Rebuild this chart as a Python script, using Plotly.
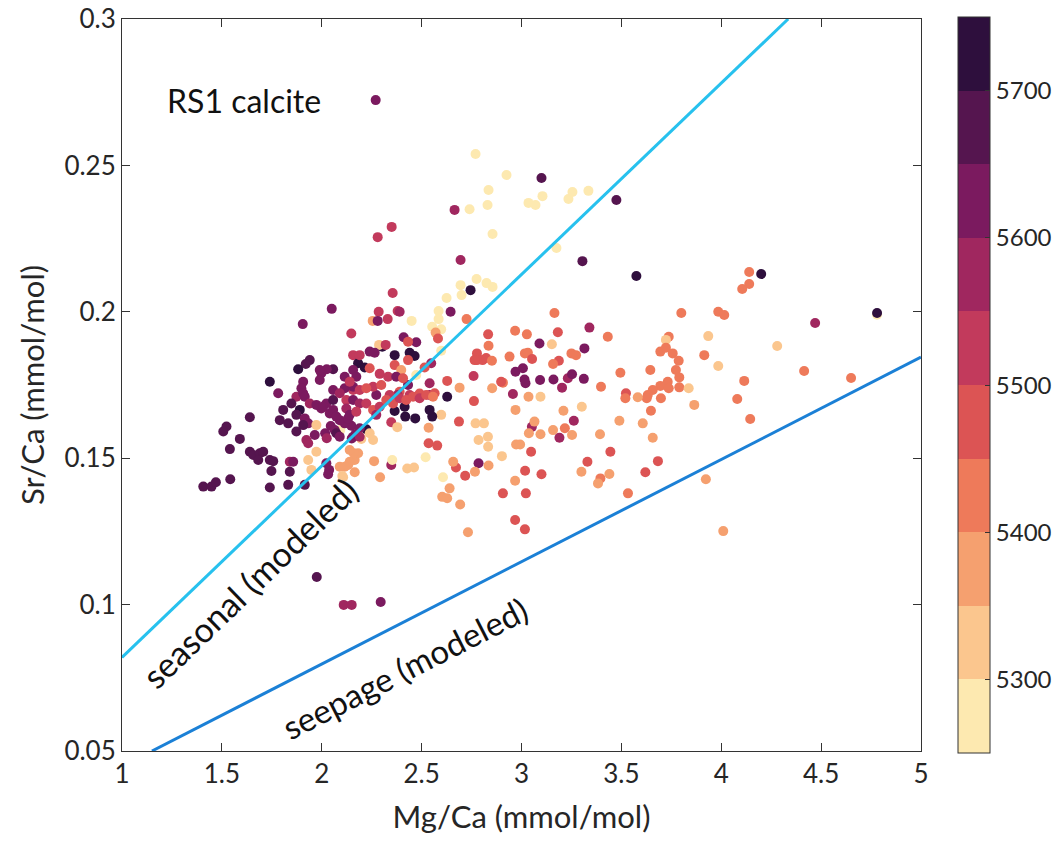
import plotly.graph_objects as go

# ---------------- data ----------------
# age codes: A=5725 B=5675 C=5625 D=5575 E=5525 F=5475 G=5425 H=5375 I=5325 J=5275
A, B, C, D, E, F, G, H, I, J = 5725, 5675, 5625, 5575, 5525, 5475, 5425, 5375, 5325, 5275

mg_ca = [
    2.27, 2.77, 2.925, 2.835, 2.83, 2.74, 2.665, 2.855, 2.28, 2.35,
    2.695, 2.775, 2.825, 2.855, 2.745, 2.695, 2.70, 2.625, 2.585, 2.645,
    2.725, 2.585, 2.45, 2.355, 2.285, 2.38, 2.33, 2.255, 2.28, 2.05,
    1.905, 3.10, 3.035, 3.07, 3.105, 3.235, 3.255, 3.335, 3.475, 3.175,
    3.305, 3.575, 4.2, 4.14, 4.14, 4.105, 3.165, 3.80, 3.985, 4.015,
    4.47, 2.39, 4.78, 4.78, 3.935, 4.28, 3.915, 3.985, 4.415, 4.65,
    4.115, 4.08, 4.145,
    2.833, 2.968, 3.027, 3.182, 3.34, 3.432, 3.737, 3.723, 2.835, 3.152,
    3.09, 3.315, 2.777, 2.777, 2.805, 2.765, 2.823, 2.852, 2.94, 3.017,
    3.032, 3.053, 3.25, 3.273, 3.187, 3.158, 3.695, 3.723, 3.757, 3.787,
    2.97, 3.007, 3.015, 3.02, 3.093, 3.16, 3.203, 3.232, 3.253, 3.312,
    2.957, 2.907, 2.76, 2.628, 2.69, 2.853, 2.762, 3.035, 3.095, 3.398,
    3.495, 3.645, 3.732, 3.695, 3.657, 3.632, 3.627, 3.698, 3.773, 3.79,
    3.79, 3.737, 3.837, 3.865, 3.523, 3.52, 3.582, 3.648, 3.607, 3.657,
    3.49, 3.393, 3.302, 3.21, 2.97, 3.262, 3.052, 3.065, 3.158, 3.217,
    3.19, 3.253, 3.095, 3.037, 2.973, 2.993, 3.048, 3.445, 3.33, 3.30,
    3.395, 3.383, 3.44, 3.62, 3.683, 3.533, 3.923, 4.01, 2.902, 2.833,
    2.832, 2.785, 2.77, 2.812, 2.785, 2.835, 2.767, 2.718, 2.672, 2.658,
    2.687, 2.607, 2.64, 2.603, 2.628, 2.693, 2.732, 2.968, 2.907, 3.018,
    3.022, 3.10, 2.968, 3.017, 2.54, 2.54, 2.535, 2.578, 2.52, 2.428,
    2.462, 2.535, 2.598, 2.628, 2.553, 2.54, 2.468, 2.418, 2.415,
    2.365, 2.223, 2.15, 2.348, 2.378, 2.348, 2.292, 2.262, 2.353, 2.107,
    2.165, 2.132, 2.14, 2.165, 2.182, 2.16, 2.14, 2.115, 2.09, 2.103,
    2.023, 2.037, 2.032, 2.24, 2.257, 2.198, 2.093, 2.148, 2.17, 2.045,
    2.065, 2.017, 2.025, 2.115, 2.09, 2.132, 2.023, 2.057, 1.998, 2.04,
    2.157, 2.273, 2.39, 2.44, 2.49, 2.38,
    2.553, 2.598, 2.57, 2.582, 2.598, 2.148, 2.41, 2.473, 2.432, 2.303,
    2.287, 2.32, 2.365, 2.44, 2.465, 2.24, 2.265, 2.157, 2.182, 2.215,
    2.365, 2.398, 2.432, 2.548, 2.515, 2.473, 2.057, 2.025, 1.998, 2.115,
    2.157, 2.173, 2.24, 2.29, 2.332, 2.373, 2.432, 2.407, 2.565, 2.057,
    2.115, 2.157, 2.257, 2.298, 2.34,
    1.94, 1.92, 1.882, 1.74, 1.782, 1.99, 1.99, 1.907, 1.898, 1.873,
    1.907, 1.915, 1.848, 1.807, 1.89, 1.873, 1.915, 1.932, 1.907, 1.79,
    1.832, 1.873, 1.94, 1.973, 2.007, 1.973, 1.965, 1.923, 1.932, 1.973,
    1.932, 1.948, 1.64, 1.523, 1.507, 1.59, 1.54, 1.64, 1.657, 1.69,
    1.707, 1.682, 1.74, 1.757, 1.748, 1.84, 1.857, 1.84, 1.407, 1.448,
    1.47, 1.542, 1.74, 1.832, 1.915,
    1.975, 2.11, 2.15, 2.295,
    2.14, 2.19, 2.223, 2.09, 2.123, 2.157, 2.19, 2.057, 2.073, 2.123,
    2.14, 2.173, 2.223, 2.257, 2.273, 2.29, 2.323, 2.357, 2.39, 2.423,
    2.457, 2.49, 2.523, 2.557, 2.19, 2.157, 2.19, 2.073, 2.09, 2.19,
    2.898,
]

sr_ca = [
    0.2723, 0.2539, 0.2467, 0.2416, 0.2365, 0.235, 0.2348, 0.2266, 0.2255, 0.229,
    0.2177, 0.2112, 0.2098, 0.2085, 0.2074, 0.2091, 0.2057, 0.2047, 0.2003, 0.200,
    0.1975, 0.1975, 0.1969, 0.2064, 0.200, 0.2003, 0.1975, 0.1969, 0.1969, 0.201,
    0.1958, 0.2457, 0.2372, 0.2365, 0.2395, 0.2385, 0.2409, 0.2413, 0.2382, 0.2218,
    0.2173, 0.2122, 0.2129, 0.2136, 0.2095, 0.2078, 0.1996, 0.1996, 0.200, 0.1989,
    0.1962, 0.200, 0.1990, 0.1996, 0.1917, 0.1883, 0.1852, 0.1815, 0.1798, 0.1774,
    0.1764, 0.1702, 0.1634,
    0.1923, 0.1935, 0.1923, 0.193, 0.1946, 0.1915, 0.1915, 0.1904, 0.1884, 0.1889,
    0.1892, 0.1875, 0.1858, 0.1835, 0.1835, 0.1835, 0.1842, 0.1833, 0.1847, 0.1858,
    0.1860, 0.1839, 0.1858, 0.1852, 0.1833, 0.1822, 0.1864, 0.1877, 0.1858, 0.1833,
    0.1795, 0.1807, 0.1769, 0.1756, 0.1767, 0.1769, 0.1741, 0.1773, 0.1787, 0.1771,
    0.1719, 0.1758, 0.1781, 0.1764, 0.1741, 0.1739, 0.1695, 0.1710, 0.1710, 0.1744,
    0.1792, 0.1801, 0.1761, 0.1747, 0.1733, 0.1716, 0.1705, 0.1705, 0.1801, 0.1776,
    0.1742, 0.1739, 0.1739, 0.1682, 0.1722, 0.1705, 0.1708, 0.1662, 0.1619, 0.1570,
    0.1628, 0.1582, 0.1676, 0.1662, 0.1665, 0.1628, 0.1607, 0.1625, 0.1596, 0.1602,
    0.1570, 0.1579, 0.1582, 0.1585, 0.1547, 0.1547, 0.1522, 0.1522, 0.1488, 0.1454,
    0.1431, 0.1414, 0.1446, 0.1452, 0.1490, 0.1380, 0.1428, 0.1251, 0.1507, 0.1539,
    0.1573, 0.1562, 0.1619, 0.1619, 0.1483, 0.1475, 0.1454, 0.1440, 0.1468, 0.1488,
    0.1625, 0.1435, 0.1397, 0.1368, 0.1363, 0.1342, 0.1247, 0.1423, 0.1380, 0.1457,
    0.1380, 0.1445, 0.1289, 0.1257, 0.1756, 0.1716, 0.1551, 0.1543, 0.1503, 0.1465,
    0.1468, 0.1604, 0.1648, 0.1710, 0.1642, 0.1665, 0.1636, 0.1642, 0.1676,
    0.1661, 0.1599, 0.1567, 0.1623, 0.1606, 0.1477, 0.1435, 0.149, 0.1494, 0.1435,
    0.1452, 0.1477, 0.1488, 0.1494, 0.1517, 0.1517, 0.1528, 0.1471, 0.1471, 0.1439,
    0.1483, 0.146, 0.1445, 0.1585, 0.1562, 0.1566, 0.1596, 0.1611, 0.1583, 0.161,
    0.1596, 0.1585, 0.1568, 0.1619, 0.163, 0.1636, 0.1687, 0.1699, 0.167, 0.1653,
    0.1733, 0.1716, 0.1727, 0.1716, 0.1721, 0.1716,
    0.1949, 0.194, 0.1929, 0.1909, 0.1867, 0.1926, 0.1913, 0.1896, 0.1898, 0.1881,
    0.1887, 0.1887, 0.1852, 0.186, 0.1849, 0.1864, 0.186, 0.1852, 0.1824, 0.181,
    0.1818, 0.1801, 0.1835, 0.1824, 0.181, 0.1784, 0.1804, 0.1804, 0.179, 0.1778,
    0.1801, 0.1778, 0.1807, 0.1788, 0.1778, 0.1778, 0.175, 0.1773, 0.1722, 0.1733,
    0.1739, 0.1744, 0.1744, 0.175, 0.1716,
    0.1835, 0.1822, 0.1804, 0.1761, 0.1722, 0.1801, 0.1767, 0.1761, 0.1739, 0.171,
    0.1722, 0.171, 0.1687, 0.1665, 0.1665, 0.1648, 0.1636, 0.1619, 0.1613, 0.163,
    0.1619, 0.1591, 0.1687, 0.1682, 0.1676, 0.1613, 0.1579, 0.1562, 0.1551, 0.1522,
    0.1494, 0.146, 0.164, 0.1608, 0.1591, 0.1566, 0.1531, 0.1522, 0.1511, 0.1517,
    0.1522, 0.1494, 0.1494, 0.149, 0.1456, 0.1488, 0.1488, 0.1454, 0.1403, 0.1403,
    0.1418, 0.1428, 0.14, 0.1409, 0.1409,
    0.1094, 0.0999, 0.0999, 0.1009,
    0.1761, 0.1733, 0.1739, 0.1722, 0.1699, 0.1699, 0.1687, 0.1665, 0.1642, 0.1670,
    0.1648, 0.1659, 0.1687, 0.1665, 0.1648, 0.1676, 0.1699, 0.1687, 0.1705, 0.1699,
    0.171, 0.1705, 0.1716, 0.171, 0.1602, 0.1573, 0.1573, 0.1585, 0.1573, 0.1852,
    0.1761,
]

age_bp = [
    C, J, J, J, J, J, D, J, E, E,
    D, J, J, J, A, J, J, J, J, C,
    G, J, J, E, E, E, E, H, C, C,
    C, B, J, J, J, J, J, J, B, J,
    B, A, A, G, G, G, G, G, G, G,
    D, D, J, A, I, I, G, I, G, G,
    G, G, G,
    F, G, G, F, D, G, G, I, G, I,
    C, C, F, F, F, F, F, G, G, G,
    G, F, G, G, F, G, G, G, G, G,
    C, C, C, C, C, C, D, D, C, C,
    D, G, E, F, H, H, F, H, I, G,
    G, G, G, G, G, G, G, G, G, G,
    G, G, I, H, F, G, H, G, H, H,
    H, H, I, H, H, D, D, H, H, G,
    D, H, H, H, H, H, F, F, F, H,
    G, H, H, F, F, G, H, H, I, I,
    I, I, I, I, C, H, H, F, F, H,
    F, J, H, H, H, H, H, H, F, F,
    F, F, F, F, D, D, F, F, J, I,
    I, H, I, A, A, A, A, A, A,
    A, A, C, E, I, D, H, H, J, I,
    H, H, H, H, H, H, H, H, H, I,
    C, C, C, I, I, I, J, C, C, C,
    C, C, D, C, C, C, C, B, C, C,
    E, C, F, E, F, D,
    J, J, H, F, J, E, C, C, F, A,
    I, E, A, A, A, C, C, E, A, A,
    F, H, F, D, F, J, B, C, C, C,
    C, C, F, E, E, C, C, F, F, C,
    C, C, E, F, E,
    B, B, A, A, C, C, C, C, C, D,
    C, C, B, B, A, B, C, C, B, B,
    B, B, D, C, C, I, C, D, D, I,
    I, I, B, B, B, B, B, B, B, B,
    B, B, B, B, B, D, C, B, B, B,
    B, B, B, B, B,
    B, D, D, C,
    E, E, F, D, E, C, D, C, C, D,
    C, E, E, F, D, E, F, F, E, F,
    F, E, F, G, C, C, D, B, C, E,
    F,
]

# modelled lines (end points in data units)
seasonal_x = [1.0, 4.335]
seasonal_y = [0.082, 0.3]
seepage_x = [1.15, 5.0]
seepage_y = [0.05, 0.1845]

bin_colors = ["#fde9b0", "#fbc68e", "#f5a06f", "#ee7a5a", "#dc5454",
              "#c23a5c", "#a0275f", "#7b1a5f", "#55154f", "#2e0f3d"]
cbar_ticks = [5300, 5400, 5500, 5600, 5700]
x_ticks = [1, 1.5, 2, 2.5, 3, 3.5, 4, 4.5, 5]
y_ticks = [0.05, 0.1, 0.15, 0.2, 0.25, 0.3]
y_ticktext = ["0.05", "0.1", "0.15", "0.2", "0.25", "0.3"]

# ---------------- figure ----------------
n = len(bin_colors)
colorscale = []
for i, c in enumerate(bin_colors):
    colorscale.append([i / n, c])
    colorscale.append([(i + 1) / n, c])

FONT = "Lato"
TXT = "#262626"

fig = go.Figure()

fig.add_trace(go.Scatter(
    x=mg_ca, y=sr_ca, mode="markers", showlegend=False,
    marker=dict(
        size=10, color=age_bp, colorscale=colorscale, cmin=5250, cmax=5750,
        line=dict(width=0),
        colorbar=dict(
            x=1.0463, xanchor="left", xref="paper", xpad=0,
            y=-0.003, yanchor="bottom", len=1.006, lenmode="fraction", ypad=0,
            thickness=32, outlinewidth=1, outlinecolor="#333333",
            tickvals=cbar_ticks, ticks="inside", ticklen=5, tickcolor="#333333",
            tickfont=dict(family=FONT, size=24, color=TXT),
        ),
    ),
))

fig.add_trace(go.Scatter(
    x=seasonal_x, y=seasonal_y, mode="lines",
    line=dict(color="#27c1ee", width=3), hoverinfo="skip", showlegend=False))
fig.add_trace(go.Scatter(
    x=seepage_x, y=seepage_y, mode="lines",
    line=dict(color="#1b80d6", width=3), hoverinfo="skip", showlegend=False))

axis_common = dict(
    showgrid=False, zeroline=False, showline=True, linecolor="#333333",
    linewidth=1, mirror="ticks", ticks="inside", ticklen=8,
    tickcolor="#333333", tickfont=dict(family=FONT, size=26, color=TXT),
)

fig.update_xaxes(range=[1, 5], tickvals=x_ticks,
                 title=dict(text="Mg/Ca (mmol/mol)",
                            font=dict(family=FONT, size=31, color=TXT), standoff=18),
                 **axis_common)
fig.update_yaxes(range=[0.05, 0.3], tickvals=y_ticks, ticktext=y_ticktext,
                 title=dict(text="Sr/Ca (mmol/mol)",
                            font=dict(family=FONT, size=31, color=TXT), standoff=10),
                 **axis_common)

fig.add_annotation(x=1.215, y=0.2723, xref="x", yref="y", text="RS1 calcite",
                   showarrow=False, xanchor="left", yanchor="middle",
                   font=dict(family=FONT, size=32, color="#111111"))
fig.add_annotation(x=1.64, y=0.1074, xref="x", yref="y", text="seasonal (modeled)",
                   showarrow=False, textangle=-44,
                   font=dict(family=FONT, size=34, color="#111111"))
fig.add_annotation(x=2.415, y=0.0783, xref="x", yref="y", text="seepage (modeled)",
                   showarrow=False, textangle=-27,
                   font=dict(family=FONT, size=33, color="#111111"))

fig.update_layout(
    width=1061, height=843,
    margin=dict(l=122, r=140, t=19, b=92, autoexpand=False),
    paper_bgcolor="white", plot_bgcolor="white",
    font=dict(family=FONT, color=TXT),
)

fig.write_html("out.html")
